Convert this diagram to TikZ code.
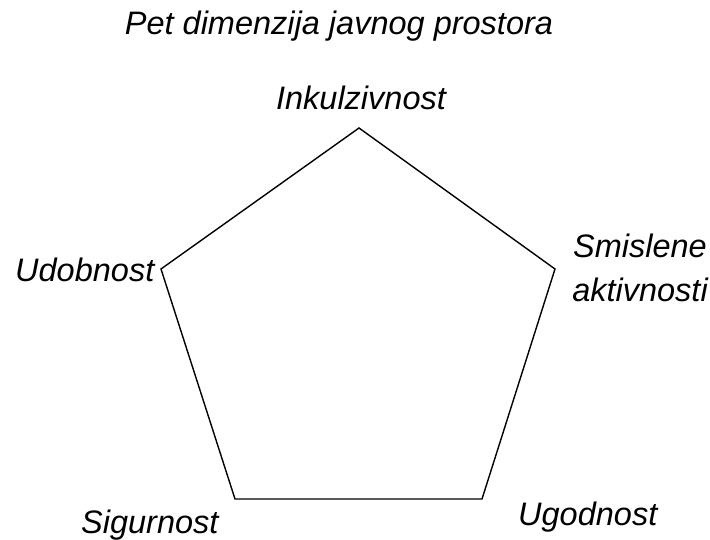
\documentclass[tikz,border=0pt]{standalone}
\usepackage{fontspec}
\setmainfont{Liberation Sans}
\begin{document}
\begin{tikzpicture}[x=1pt,y=1pt,
  lbl/.style={font=\itshape\fontsize{32.5}{44}\selectfont, inner sep=0pt},
  edge/.style={line width=1.4pt, line join=miter}]
\useasboundingbox (0,0) rectangle (710,539);
% pentagon vertices
\coordinate (vt) at (359,411);
\coordinate (vr) at (555,270);
\coordinate (vbr) at (482,40);
\coordinate (vbl) at (235,40);
\coordinate (vl) at (161,270);
\draw[edge] (vt) -- (vr) -- (vbr) -- (vbl) -- (vl) -- cycle;
% labels
\node[lbl, anchor=base] (title) at (339,504) {Pet dimenzija javnog prostora};
\node[lbl, anchor=base] (inkl) at (361,429) {Inkulzivnost};
\node[lbl, anchor=base, align=center] (smis) at (640,237) {Smislene\\aktivnosti};
\node[lbl, anchor=base west] (udob) at (15,257) {Udobnost};
\node[lbl, anchor=base west] (sigu) at (81,6) {Sigurnost};
\node[lbl, anchor=base west] (ugod) at (518,14) {Ugodnost};
\end{tikzpicture}
\end{document}
